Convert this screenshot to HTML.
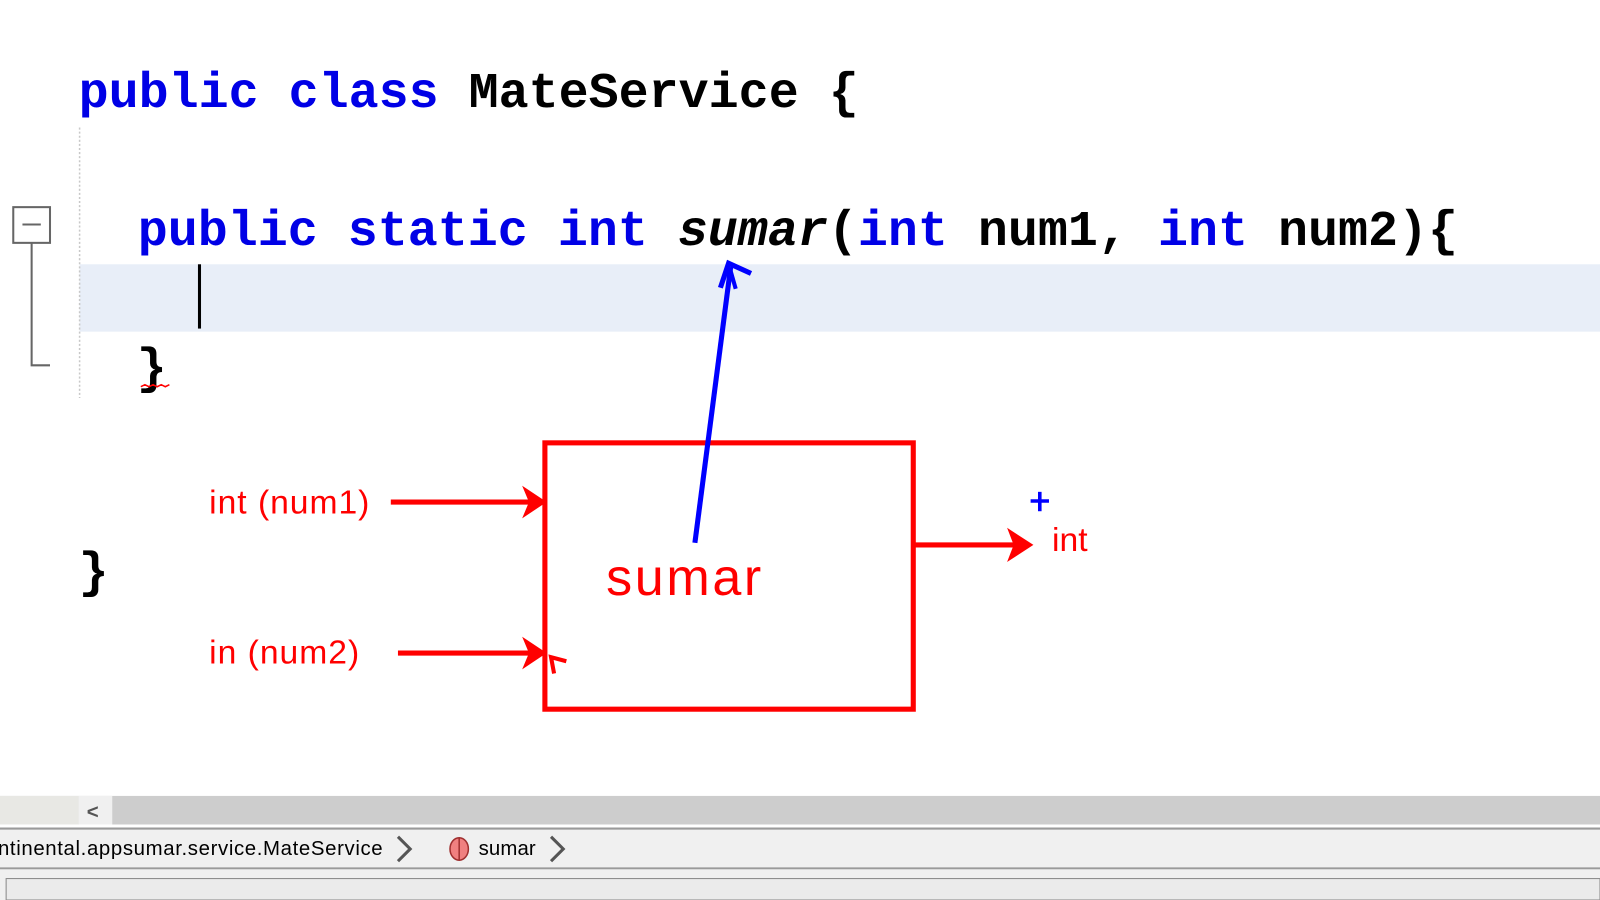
<!DOCTYPE html>
<html><head><meta charset="utf-8"><style>
html,body{margin:0;padding:0;background:#fff;overflow:hidden}
svg{display:block}
.code{font-family:"Liberation Mono",monospace;font-weight:bold;font-size:49px}
.kw{fill:#0000e6}
.s{font-family:"Liberation Sans",sans-serif;fill:#ff0000}
</style></head><body>
<svg width="1600" height="900" viewBox="0 0 1568 882" xmlns="http://www.w3.org/2000/svg">
<rect width="1568" height="882" fill="#fff"/>
<rect x="78" y="259" width="1490" height="66" fill="#e8eef8"/>
<line x1="78" y1="125" x2="78" y2="390" stroke="#c8c8c8" stroke-width="1.5" stroke-dasharray="2,2"/>
<rect x="13" y="203" width="36" height="35" fill="#fff" stroke="#666" stroke-width="2"/>
<line x1="22" y1="220" x2="40" y2="220" stroke="#666" stroke-width="2"/>
<polyline points="31,238 31,358 49,358" fill="none" stroke="#666" stroke-width="2"/>
<text x="77" y="105" class="code"><tspan class="kw">public class </tspan><tspan fill="#000">MateService {</tspan></text>
<text x="135" y="240" class="code"><tspan class="kw">public static int </tspan><tspan fill="#000" font-style="italic">sumar</tspan><tspan fill="#000">(</tspan><tspan class="kw">int </tspan><tspan fill="#000">num1, </tspan><tspan class="kw">int </tspan><tspan fill="#000">num2){</tspan></text>
<rect x="194" y="259" width="3" height="63" fill="#000"/>
<text x="134" y="375" class="code" fill="#000">}</text>
<path d="M138 379 l4 -2 l4 2 l4 -2 l4 2 l4 -2 l4 2 l4 -2" stroke="#ff0000" fill="none" stroke-width="1.5"/>
<text x="77" y="575" class="code" fill="#000">}</text>
<rect x="534" y="434" width="361" height="261" fill="none" stroke="#ff0000" stroke-width="5"/>
<text x="594" y="583" class="s" font-size="51" textLength="152">sumar</text>
<text x="205" y="503" class="s" font-size="33" textLength="157">int (num1)</text>
<text x="205" y="650" class="s" font-size="33" textLength="147">in (num2)</text>
<text x="1031" y="540" class="s" font-size="33">int</text>
<g stroke="#ff0000" stroke-width="5" fill="none" stroke-linejoin="miter">
<line x1="383" y1="492" x2="530" y2="492"/>
<path d="M515,480 L533,492 L515,504 L520,492 Z" fill="#ff0000" stroke-width="3"/>
<line x1="390" y1="640" x2="530" y2="640"/>
<path d="M515,628 L533,640 L515,652 L520,640 Z" fill="#ff0000" stroke-width="3"/>
<polyline points="543,660 540,644 555,648" stroke-width="4"/>
<line x1="897" y1="534" x2="1005" y2="534"/>
<path d="M990,521 L1010,534 L990,547 L995,534 Z" fill="#ff0000" stroke-width="3"/>
</g>
<g stroke="#0000ff" stroke-width="5" fill="none">
<line x1="681" y1="532" x2="716" y2="262"/>
<polyline points="706,282 714,258 736,268" stroke-width="5"/>
<line x1="715" y1="262" x2="721" y2="283" stroke-width="4"/>
<line x1="1019" y1="482" x2="1019" y2="501" stroke-width="3.5"/>
<line x1="1010" y1="491" x2="1028" y2="491" stroke-width="3.5"/>
</g>
<rect x="0" y="780" width="1568" height="28" fill="#cdcdcd"/>
<rect x="0" y="780" width="77" height="28" fill="#e8e8e4"/>
<rect x="77" y="780" width="33" height="28" fill="#f0f0f0"/>
<text x="85" y="802" font-family="Liberation Sans,sans-serif" font-size="20" font-weight="bold" fill="#555">&lt;</text>
<rect x="0" y="811" width="1568" height="40" fill="#f0f0f0"/>
<line x1="0" y1="812" x2="1568" y2="812" stroke="#9a9a9a" stroke-width="2"/>
<line x1="0" y1="851" x2="1568" y2="851" stroke="#9a9a9a" stroke-width="2"/>
<text x="-2" y="838" font-family="Liberation Sans,sans-serif" font-size="20" fill="#000" textLength="377">ntinental.appsumar.service.MateService</text>
<polyline points="390,820 402,832 390,844" fill="none" stroke="#555" stroke-width="3"/>
<ellipse cx="450" cy="832" rx="9" ry="11" fill="#f08080" stroke="#a03030" stroke-width="1.5"/>
<line x1="450" y1="821" x2="450" y2="843" stroke="#a03030" stroke-width="1.5"/>
<text x="469" y="838" font-family="Liberation Sans,sans-serif" font-size="20" fill="#000" textLength="56">sumar</text>
<polyline points="540,820 552,832 540,844" fill="none" stroke="#555" stroke-width="3"/>
<rect x="0" y="852" width="1568" height="30" fill="#f0f0f0"/>
<rect x="6" y="861" width="1562" height="21" fill="#ebebeb" stroke="#888" stroke-width="1"/>
</svg>
</body></html>
